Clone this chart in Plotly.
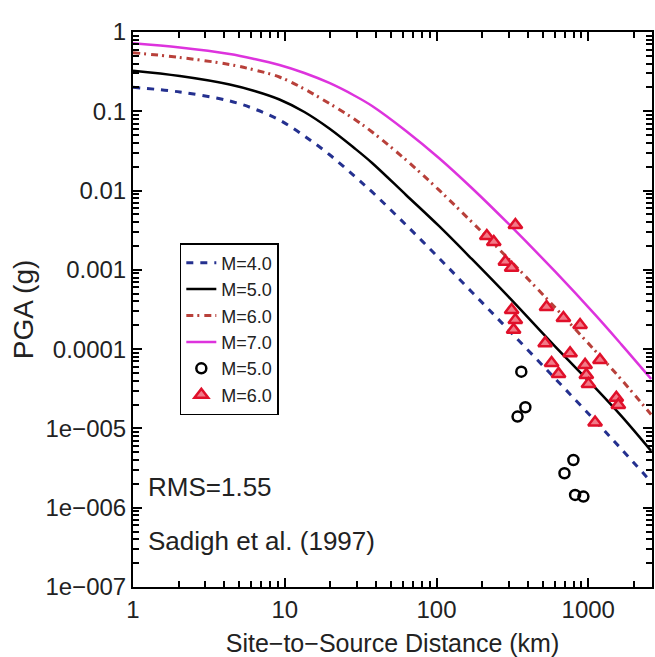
import plotly.graph_objects as go

# ---- model curves (distance km, PGA g) ----
dist_km = [1, 2.035, 4.335, 6.326, 9.23, 13.47, 19.66, 28.69, 37.65, 62.98, 103.7,
           170.8, 298.8, 608.1, 1113, 1650, 2596]
m4_y = [0.2007, 0.1751, 0.1349, 0.1069, 0.07768, 0.04881, 0.02851, 0.01528, 0.009601,
        0.003683, 0.001413, 0.0005265, 0.0001747, 4.209e-5, 1.243e-5, 5.513e-6, 2.115e-6]
m5_y = [0.3251, 0.2787, 0.2178, 0.1803, 0.1409, 0.0980, 0.0607, 0.03445, 0.02229,
        0.008800, 0.003578, 0.001372, 0.0004553, 0.0001066, 3.240e-5, 1.437e-5, 5.2e-6]
m6_y = [0.5482, 0.4770, 0.3892, 0.3318, 0.2707, 0.1911, 0.1254, 0.07995, 0.05483,
        0.02431, 0.01018, 0.004018, 0.001372, 0.0003308, 9.49e-5, 4.148e-5, 1.5e-5]
m7_y = [0.7203, 0.6375, 0.5279, 0.4566, 0.3836, 0.3041, 0.2275, 0.1582, 0.1166,
        0.05644, 0.02577, 0.01078, 0.003791, 0.0009408, 0.0002700, 0.0001150, 4.2e-5]

# ---- observed data ----
obs5_r = [362, 385, 342, 798, 697, 819, 929]
obs5_y = [5.2e-5, 1.85e-5, 1.41e-5, 4.0e-6, 2.72e-6, 1.45e-6, 1.38e-6]

obs6_r = [331, 214.5, 238.4, 284.4, 312.7, 312.7, 330.6, 322, 531, 686, 883, 520,
          573, 637, 759, 953, 971, 1003, 1194, 1531, 1578, 1109]
obs6_y = [3.68e-3, 2.67e-3, 2.25e-3, 1.27e-3, 1.06e-3, 3.12e-4, 2.33e-4, 1.75e-4,
          3.40e-4, 2.47e-4, 2.02e-4, 1.19e-4, 6.70e-5, 4.87e-5, 8.87e-5, 6.33e-5,
          4.73e-5, 3.64e-5, 7.31e-5, 2.43e-5, 1.98e-5, 1.19e-5]

ytick_vals = [1, 0.1, 0.01, 0.001, 0.0001, 1e-5, 1e-6, 1e-7]
ytick_text = ["1", "0.1", "0.01", "0.001", "0.0001", "1e\u2212005", "1e\u2212006", "1e\u2212007"]
xtick_vals = [1, 10, 100, 1000]
xtick_text = ["1", "10", "100", "1000"]

FONT = "Liberation Sans, Arial, sans-serif"
TXT = "#222"

fig = go.Figure()
fig.add_trace(go.Scatter(x=dist_km, y=m4_y, mode="lines", name="M=4.0",
                         line=dict(color="#24308f", width=3, dash="7px,7px", shape="spline", smoothing=1)))
fig.add_trace(go.Scatter(x=dist_km, y=m5_y, mode="lines", name="M=5.0",
                         line=dict(color="black", width=2.5, shape="spline", smoothing=1)))
fig.add_trace(go.Scatter(x=dist_km, y=m6_y, mode="lines", name="M=6.0",
                         line=dict(color="#b8403a", width=3, dash="7px,4px,2px,5px", shape="spline", smoothing=1)))
fig.add_trace(go.Scatter(x=dist_km, y=m7_y, mode="lines", name="M=7.0",
                         line=dict(color="#dd33dd", width=2.5, shape="spline", smoothing=1)))
fig.add_trace(go.Scatter(x=obs5_r, y=obs5_y, mode="markers", name="M=5.0",
                         marker=dict(symbol="circle-open", size=10, color="black", line=dict(width=2.5))))
fig.add_trace(go.Scatter(x=obs6_r, y=obs6_y, mode="markers", name="M=6.0",
                         marker=dict(symbol="triangle-up", size=12, color="#f27a88",
                                     line=dict(width=2.5, color="#e0102a"))))

minor_x = [m * 10 ** d for d in range(0, 4) for m in range(2, 10)]
minor_y = [m * 10.0 ** d for d in range(-7, 0) for m in range(2, 10)]

fig.update_xaxes(type="log", range=[0, 3.42], tickmode="array", tickvals=xtick_vals, ticktext=xtick_text,
                 ticks="inside", ticklen=9, tickwidth=1.5, tickcolor="black",
                 showline=True, linecolor="black", linewidth=2, mirror="ticks",
                 showgrid=False, zeroline=False,
                 minor=dict(tickmode="array", tickvals=minor_x, ticks="inside", ticklen=6,
                            tickwidth=1.5, tickcolor="black", showgrid=False),
                 tickfont=dict(family=FONT, size=24, color=TXT),
                 title=dict(text="Site\u2212to\u2212Source Distance (km)", standoff=14,
                            font=dict(family=FONT, size=25, color=TXT)))
fig.update_yaxes(type="log", range=[-7, 0], tickmode="array", tickvals=ytick_vals, ticktext=ytick_text,
                 ticks="inside", ticklen=9, tickwidth=1.5, tickcolor="black",
                 showline=True, linecolor="black", linewidth=2, mirror="ticks",
                 showgrid=False, zeroline=False,
                 minor=dict(tickmode="array", tickvals=minor_y, ticks="inside", ticklen=6,
                            tickwidth=1.5, tickcolor="black", showgrid=False),
                 tickfont=dict(family=FONT, size=24, color=TXT),
                 title=dict(text="PGA (g)", standoff=4, font=dict(family=FONT, size=28, color=TXT)))

fig.add_annotation(x=0.026, y=(587 - 487) / 555, xref="paper", yref="paper", text="RMS=1.55",
                   showarrow=False, xanchor="left", yanchor="middle",
                   font=dict(family=FONT, size=26, color=TXT))
fig.add_annotation(x=0.026, y=(587 - 541) / 555, xref="paper", yref="paper", text="Sadigh et al. (1997)",
                   showarrow=False, xanchor="left", yanchor="middle",
                   font=dict(family=FONT, size=26, color=TXT))

fig.update_layout(
    width=655, height=657,
    margin=dict(l=133, r=1, t=32, b=70),
    paper_bgcolor="white", plot_bgcolor="white",
    font=dict(family=FONT, color=TXT),
    showlegend=True,
    legend=dict(x=(180 - 133) / 521, y=(587 - 243) / 555, xanchor="left", yanchor="top",
                bgcolor="white", bordercolor="black", borderwidth=1.5,
                font=dict(family=FONT, size=18, color=TXT),
                itemwidth=30, tracegroupgap=0, traceorder="normal"),
)

fig.write_html("out.html")
